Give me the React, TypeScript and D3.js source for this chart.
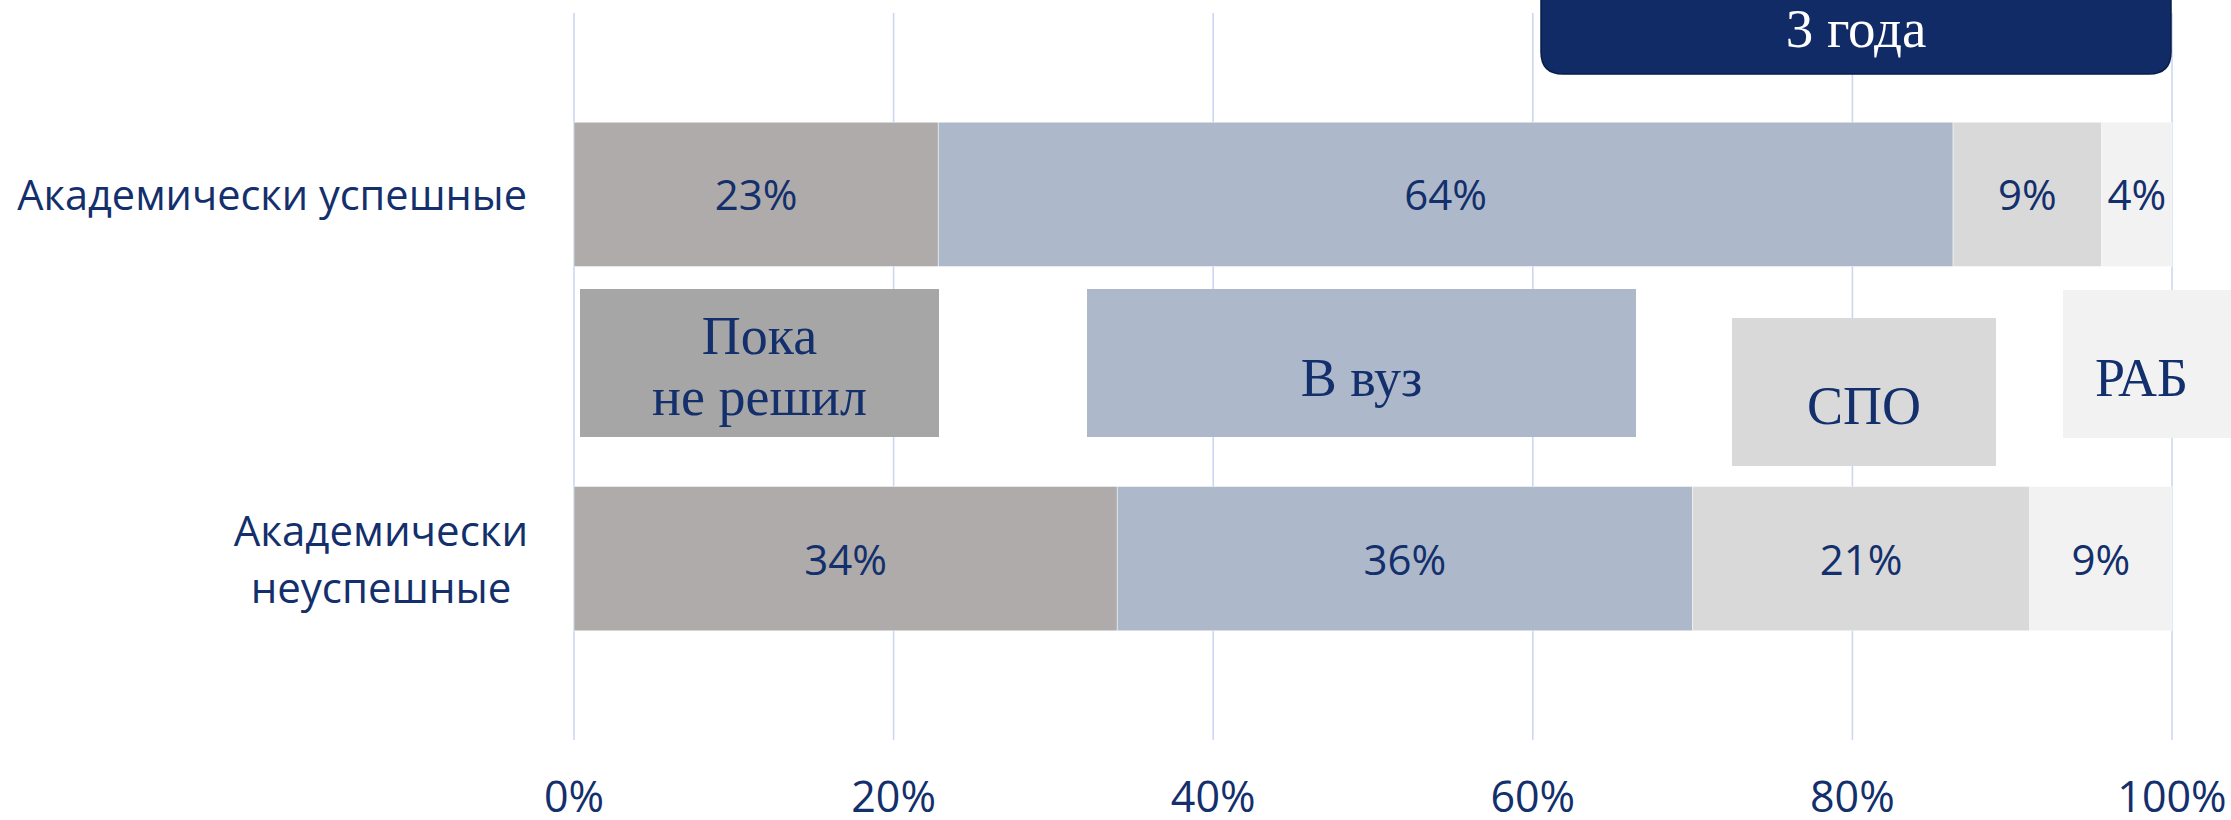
import React from "react";
import * as d3 from "d3";

const categories = ["Академически успешные", "Академически неуспешные"];
const categoryLines = [["Академически успешные"], ["Академически", "неуспешные"]];
const seriesNames = ["Пока не решил", "В вуз", "СПО", "РАБ"];
const successful = [22.8, 63.5, 9.3, 4.4];
const unsuccessful = [34.0, 36.0, 21.1, 8.9];
const tickValues = [0, 20, 40, 60, 80, 100];
const titleText = "3 года";
const legendLines = [["Пока", "не решил"], ["В вуз"], ["СПО"], ["РАБ"]];

const W = 2231;
const H = 820;
const NAVY = "#132f6c";
const barColors = ["#aeabaa", "#adb9ca", "#d9d9d9", "#f2f2f2"];
const legendFill = ["#a6a6a6", "#adb9ca", "#d9d9d9", "#f2f2f2"];
// legend box layout (pixels)
const legendBoxes = [
  { x0: 580, x1: 939, y0: 289, y1: 437, base: [354, 415] },
  { x0: 1087, x1: 1636, y0: 289, y1: 437, base: [396] },
  { x0: 1732, x1: 1996, y0: 318, y1: 466, base: [424] },
  { x0: 2063, x1: 2231, y0: 290, y1: 438, base: [396] },
];

export default function App() {
  const x = d3.scaleLinear().domain([0, 100]).range([574, 2172]);
  const y = d3
    .scaleBand<string>()
    .domain(categories)
    .range([13, 740])
    .paddingInner(0.604)
    .paddingOuter(0.3);

  const rows = [successful, unsuccessful];
  const stacked = rows.map((vals) => {
    let acc = 0;
    return vals.map((v, i) => {
      const s = acc;
      acc += v;
      return { i, v, s, e: acc };
    });
  });

  const sans = "'Open Sans', 'Noto Sans', sans-serif";
  const serif = "'Liberation Serif', 'DejaVu Serif', serif";

  return (
    <svg
      width={W}
      height={H}
      style={{ position: "absolute", left: 0, top: 0, background: "#fff" }}
    >
      {/* gridlines */}
      {tickValues.map((t) => (
        <line
          key={t}
          x1={x(t)}
          x2={x(t)}
          y1={13}
          y2={740}
          stroke="#cbd8f3"
          strokeWidth={1.6}
        />
      ))}

      {/* title box */}
      <path
        d={`M${1541},-5 L${2171},-5 L${2171},${52} Q${2171},${74} ${2149},${74} L${1563},${74} Q${1541},${74} ${1541},${52} Z`}
        fill="#112b66"
        stroke="#0a1d47"
        strokeWidth={1.5}
      />
      <text
        x={1856}
        y={47}
        textAnchor="middle"
        fill="#fff"
        fontFamily={serif}
        fontSize={55}
      >
        {titleText}
      </text>

      {/* bars */}
      {stacked.map((segs, r) => {
        const cat = categories[r];
        const y0 = y(cat)!;
        const bh = y.bandwidth();
        return (
          <g key={cat}>
            {segs.map((sg) => (
              <rect
                key={sg.i}
                x={x(sg.s)}
                y={y0}
                width={x(sg.e) - x(sg.s)}
                height={bh}
                fill={barColors[sg.i]}
                stroke="#ffffff"
                strokeOpacity={0.45}
                strokeWidth={1}
              />
            ))}
            {segs.map((sg) => (
              <text
                key={"t" + sg.i}
                x={(x(sg.s) + x(sg.e)) / 2}
                y={y0 + bh / 2 + 16}
                textAnchor="middle"
                fill={NAVY}
                fontFamily={sans}
                fontSize={42}
              >
                {Math.round(sg.v) + "%"}
              </text>
            ))}
            {categoryLines[r].map((ln, k) => {
              const n = categoryLines[r].length;
              const cy = y0 + bh / 2 + 16 + (k - (n - 1) / 2) * 57;
              return (
                <text
                  key={"c" + k}
                  x={n === 1 ? 527 : 381}
                  y={cy}
                  textAnchor={n === 1 ? "end" : "middle"}
                  fill={NAVY}
                  fontFamily={sans}
                  fontSize={n === 1 ? 41.5 : 42}
                >
                  {ln}
                </text>
              );
            })}
          </g>
        );
      })}

      {/* legend boxes */}
      {seriesNames.map((name, i) => {
        const b = legendBoxes[i];
        const cx = (b.x0 + Math.min(b.x1, 2220)) / 2;
        return (
          <g key={name}>
            <rect
              x={b.x0}
              y={b.y0}
              width={b.x1 - b.x0}
              height={b.y1 - b.y0}
              fill={legendFill[i]}
            />
            {legendLines[i].map((ln, k) => (
              <text
                key={k}
                x={cx}
                y={b.base[k]}
                textAnchor="middle"
                fill={NAVY}
                fontFamily={serif}
                fontSize={54}
              >
                {ln}
              </text>
            ))}
          </g>
        );
      })}

      {/* x axis tick labels */}
      {tickValues.map((t) => (
        <text
          key={"x" + t}
          x={x(t)}
          y={812}
          textAnchor="middle"
          fill={NAVY}
          fontFamily={sans}
          fontSize={43}
        >
          {t + "%"}
        </text>
      ))}
    </svg>
  );
}
